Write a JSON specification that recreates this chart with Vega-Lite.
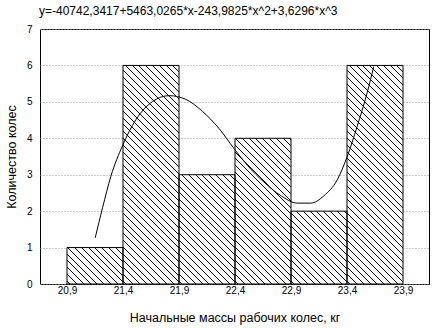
{
 "$schema": "https://vega.github.io/schema/vega-lite/v6.json",
 "width": 389,
 "height": 255,
 "padding": 5,
 "background": "white",
 "config": {
  "view": {"stroke": "#000", "strokeWidth": 1},
  "font": "Liberation Sans"
 },
 "params": [
  {"name": "hs", "value": [
   {"offset":0,"color":"rgba(255,255,255,0)"},{"offset":0,"color":"#fff"},
   {"offset":0.028571,"color":"#fff"},{"offset":0.028571,"color":"#000"},{"offset":0.039286,"color":"#000"},{"offset":0.039286,"color":"#fff"},
   {"offset":0.1,"color":"#fff"},{"offset":0.1,"color":"#000"},{"offset":0.110714,"color":"#000"},{"offset":0.110714,"color":"#fff"},
   {"offset":0.171429,"color":"#fff"},{"offset":0.171429,"color":"#000"},{"offset":0.182143,"color":"#000"},{"offset":0.182143,"color":"#fff"},
   {"offset":0.242857,"color":"#fff"},{"offset":0.242857,"color":"#000"},{"offset":0.253571,"color":"#000"},{"offset":0.253571,"color":"#fff"},
   {"offset":0.314286,"color":"#fff"},{"offset":0.314286,"color":"#000"},{"offset":0.325,"color":"#000"},{"offset":0.325,"color":"#fff"},
   {"offset":0.385714,"color":"#fff"},{"offset":0.385714,"color":"#000"},{"offset":0.396429,"color":"#000"},{"offset":0.396429,"color":"#fff"},
   {"offset":0.457143,"color":"#fff"},{"offset":0.457143,"color":"#000"},{"offset":0.467857,"color":"#000"},{"offset":0.467857,"color":"#fff"},
   {"offset":0.528571,"color":"#fff"},{"offset":0.528571,"color":"#000"},{"offset":0.539286,"color":"#000"},{"offset":0.539286,"color":"#fff"},
   {"offset":0.6,"color":"#fff"},{"offset":0.6,"color":"#000"},{"offset":0.610714,"color":"#000"},{"offset":0.610714,"color":"#fff"},
   {"offset":0.671429,"color":"#fff"},{"offset":0.671429,"color":"#000"},{"offset":0.682143,"color":"#000"},{"offset":0.682143,"color":"#fff"},
   {"offset":0.742857,"color":"#fff"},{"offset":0.742857,"color":"#000"},{"offset":0.753571,"color":"#000"},{"offset":0.753571,"color":"#fff"},
   {"offset":0.814286,"color":"#fff"},{"offset":0.814286,"color":"#000"},{"offset":0.825,"color":"#000"},{"offset":0.825,"color":"#fff"},
   {"offset":0.885714,"color":"#fff"},{"offset":0.885714,"color":"#000"},{"offset":0.896429,"color":"#000"},{"offset":0.896429,"color":"#fff"},
   {"offset":0.957143,"color":"#fff"},{"offset":0.957143,"color":"#000"},{"offset":0.967857,"color":"#000"},{"offset":0.967857,"color":"#fff"},
   {"offset":1,"color":"#fff"},{"offset":1,"color":"rgba(255,255,255,0)"}
  ]}
 ],
 "title": {
  "text": "y=-40742,3417+5463,0265*x-243,9825*x^2+3,6296*x^3",
  "anchor": "start",
  "frame": "group",
  "fontSize": 12,
  "fontWeight": "normal",
  "font": "Liberation Sans",
  "color": "#000",
  "offset": 6,
  "dx": -1
 },
 "datasets": {
  "bins": [
   {"lo": 20.9, "hi": 21.4, "n": 1},
   {"lo": 21.4, "hi": 21.9, "n": 6},
   {"lo": 21.9, "hi": 22.4, "n": 3},
   {"lo": 22.4, "hi": 22.9, "n": 4},
   {"lo": 22.9, "hi": 23.4, "n": 2},
   {"lo": 23.4, "hi": 23.9, "n": 6}
  ],
  "curve": [
   {"x": 21.152, "y": 1.27},
   {"x": 21.218, "y": 2.1},
   {"x": 21.292, "y": 2.96},
   {"x": 21.396, "y": 3.8},
   {"x": 21.515, "y": 4.51},
   {"x": 21.664, "y": 5.01},
   {"x": 21.812, "y": 5.17},
   {"x": 21.96, "y": 5.07},
   {"x": 22.109, "y": 4.74},
   {"x": 22.257, "y": 4.27},
   {"x": 22.391, "y": 3.72},
   {"x": 22.51, "y": 3.26},
   {"x": 22.658, "y": 2.8},
   {"x": 22.807, "y": 2.43},
   {"x": 22.956, "y": 2.22},
   {"x": 23.075, "y": 2.22},
   {"x": 23.193, "y": 2.42},
   {"x": 23.313, "y": 2.86},
   {"x": 23.402, "y": 3.5},
   {"x": 23.49, "y": 4.32},
   {"x": 23.58, "y": 5.25},
   {"x": 23.639, "y": 5.97}
  ]
 },
 "layer": [
  {
   "data": {"name": "bins"},
   "mark": {
    "type": "rect", "strokeWidth": 0, "opacity": 1,
    "fill": {"expr": "{gradient: 'linear', x1: 0, y1: 1, x2: 95.2*56/(3136+1327.04*datum.n*datum.n), y2: 1 - 95.2*36.4286*datum.n/(3136+1327.04*datum.n*datum.n), stops: hs}"}
   },
   "encoding": {
    "x": {
     "field": "lo", "type": "quantitative",
     "scale": {"domain": [20.65893, 24.13214], "nice": false, "zero": false},
     "axis": {
      "values": [20.9, 21.4, 21.9, 22.4, 22.9, 23.4, 23.9],
      "labelExpr": "replace(format(datum.value, '.1f'), '.', ',')",
      "grid": false, "domain": false, "ticks": false,
      "labelPadding": 1, "labelFontSize": 10, "labelColor": "#000", "labelFont": "Liberation Sans",
      "title": "Начальные массы рабочих колес, кг",
      "titleFontSize": 12.5, "titleFontWeight": "normal", "titleColor": "#000", "titleFont": "Liberation Sans",
      "titlePadding": 16
     }
    },
    "x2": {"field": "hi"},
    "y": {
     "field": "n", "type": "quantitative",
     "scale": {"domain": [0, 7], "nice": false, "zero": true},
     "axis": {
      "values": [0, 1, 2, 3, 4, 5, 6, 7], "format": "d",
      "grid": true, "gridColor": "#9a9a9a", "gridDash": [1, 2],
      "domain": false, "ticks": false,
      "labelPadding": 8, "labelFontSize": 10, "labelColor": "#000", "labelFont": "Liberation Sans",
      "title": "Количество колес",
      "titleFontSize": 12.5, "titleFontWeight": "normal", "titleColor": "#000", "titleFont": "Liberation Sans",
      "titlePadding": 8.4
     }
    },
    "y2": {"datum": 0}
   }
  },
  {
   "data": {"name": "bins"},
   "mark": {
    "type": "rect", "strokeWidth": 0, "opacity": 1,
    "fill": {"expr": "{gradient: 'linear', x1: 0, y1: 1 - 95.2/(36.4286*datum.n), x2: 95.2*56/(3136+1327.04*datum.n*datum.n), y2: 1 - 95.2/(36.4286*datum.n) - 95.2*36.4286*datum.n/(3136+1327.04*datum.n*datum.n), stops: hs}"}
   },
   "encoding": {
    "x": {
     "field": "lo", "type": "quantitative",
     "scale": {"domain": [20.65893, 24.13214], "nice": false, "zero": false},
     "axis": {
      "values": [20.9, 21.4, 21.9, 22.4, 22.9, 23.4, 23.9],
      "labelExpr": "replace(format(datum.value, '.1f'), '.', ',')",
      "grid": false, "domain": false, "ticks": false,
      "labelPadding": 1, "labelFontSize": 10, "labelColor": "#000", "labelFont": "Liberation Sans",
      "title": "Начальные массы рабочих колес, кг",
      "titleFontSize": 12.5, "titleFontWeight": "normal", "titleColor": "#000", "titleFont": "Liberation Sans",
      "titlePadding": 16
     }
    },
    "x2": {"field": "hi"},
    "y": {
     "field": "n", "type": "quantitative",
     "scale": {"domain": [0, 7], "nice": false, "zero": true},
     "axis": {
      "values": [0, 1, 2, 3, 4, 5, 6, 7], "format": "d",
      "grid": true, "gridColor": "#9a9a9a", "gridDash": [1, 2],
      "domain": false, "ticks": false,
      "labelPadding": 8, "labelFontSize": 10, "labelColor": "#000", "labelFont": "Liberation Sans",
      "title": "Количество колес",
      "titleFontSize": 12.5, "titleFontWeight": "normal", "titleColor": "#000", "titleFont": "Liberation Sans",
      "titlePadding": 8.4
     }
    },
    "y2": {"datum": 0}
   }
  },
  {
   "data": {"name": "bins"},
   "mark": {
    "type": "rect", "stroke": "#000", "strokeWidth": 1, "opacity": 1,
    "fill": {"expr": "{gradient: 'linear', x1: 0, y1: 1 - 190.4/(36.4286*datum.n), x2: 95.2*56/(3136+1327.04*datum.n*datum.n), y2: 1 - 190.4/(36.4286*datum.n) - 95.2*36.4286*datum.n/(3136+1327.04*datum.n*datum.n), stops: hs}"}
   },
   "encoding": {
    "x": {
     "field": "lo", "type": "quantitative",
     "scale": {"domain": [20.65893, 24.13214], "nice": false, "zero": false},
     "axis": {
      "values": [20.9, 21.4, 21.9, 22.4, 22.9, 23.4, 23.9],
      "labelExpr": "replace(format(datum.value, '.1f'), '.', ',')",
      "grid": false, "domain": false, "ticks": false,
      "labelPadding": 1, "labelFontSize": 10, "labelColor": "#000", "labelFont": "Liberation Sans",
      "title": "Начальные массы рабочих колес, кг",
      "titleFontSize": 12.5, "titleFontWeight": "normal", "titleColor": "#000", "titleFont": "Liberation Sans",
      "titlePadding": 16
     }
    },
    "x2": {"field": "hi"},
    "y": {
     "field": "n", "type": "quantitative",
     "scale": {"domain": [0, 7], "nice": false, "zero": true},
     "axis": {
      "values": [0, 1, 2, 3, 4, 5, 6, 7], "format": "d",
      "grid": true, "gridColor": "#9a9a9a", "gridDash": [1, 2],
      "domain": false, "ticks": false,
      "labelPadding": 8, "labelFontSize": 10, "labelColor": "#000", "labelFont": "Liberation Sans",
      "title": "Количество колес",
      "titleFontSize": 12.5, "titleFontWeight": "normal", "titleColor": "#000", "titleFont": "Liberation Sans",
      "titlePadding": 8.4
     }
    },
    "y2": {"datum": 0}
   }
  },
  {
   "data": {"name": "curve"},
   "mark": {"type": "line", "color": "#000", "strokeWidth": 1, "interpolate": "monotone"},
   "encoding": {
    "x": {
     "field": "x", "type": "quantitative",
     "scale": {"domain": [20.65893, 24.13214], "nice": false, "zero": false},
     "axis": {
      "values": [20.9, 21.4, 21.9, 22.4, 22.9, 23.4, 23.9],
      "labelExpr": "replace(format(datum.value, '.1f'), '.', ',')",
      "grid": false, "domain": false, "ticks": false,
      "labelPadding": 1, "labelFontSize": 10, "labelColor": "#000", "labelFont": "Liberation Sans",
      "title": "Начальные массы рабочих колес, кг",
      "titleFontSize": 12.5, "titleFontWeight": "normal", "titleColor": "#000", "titleFont": "Liberation Sans",
      "titlePadding": 16
     }
    },
    "y": {
     "field": "y", "type": "quantitative",
     "scale": {"domain": [0, 7], "nice": false, "zero": true},
     "axis": {
      "values": [0, 1, 2, 3, 4, 5, 6, 7], "format": "d",
      "grid": true, "gridColor": "#9a9a9a", "gridDash": [1, 2],
      "domain": false, "ticks": false,
      "labelPadding": 8, "labelFontSize": 10, "labelColor": "#000", "labelFont": "Liberation Sans",
      "title": "Количество колес",
      "titleFontSize": 12.5, "titleFontWeight": "normal", "titleColor": "#000", "titleFont": "Liberation Sans",
      "titlePadding": 8.4
     }
    }
   }
  }
 ]
}
